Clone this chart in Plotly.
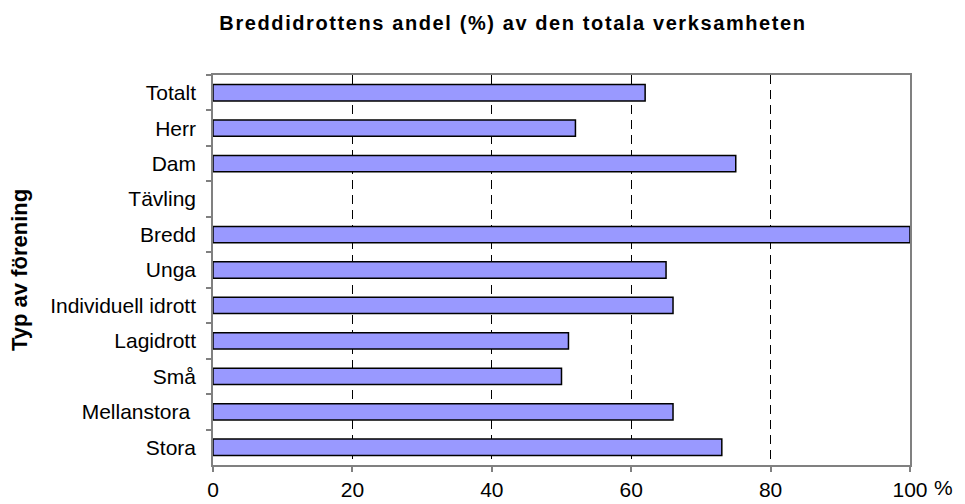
import plotly.graph_objects as go

categories = ["Totalt", "Herr", "Dam", "Tävling", "Bredd", "Unga",
              "Individuell idrott", "Lagidrott", "Små", "Mellanstora\u00a0", "Stora"]
values = [62, 52, 75, None, 100, 65, 66, 51, 50, 66, 73]
x_ticks = [0, 20, 40, 60, 80, 100]

title_text = "Breddidrottens andel (%) av den totala verksamheten"
y_title = "Typ av förening"

FONT = "Liberation Sans, Arial, sans-serif"

L, R, T, B = 213, 55, 75, 39
W, H = 965, 504
pw = W - L - R
ph = H - T - B


def px_x(x):
    return (x - L) / pw


def px_y(y):
    return (H - B - y) / ph


fig = go.Figure(go.Bar(
    x=values, y=categories, orientation="h",
    marker=dict(color="#9999FF", line=dict(color="black", width=1.5)),
    width=0.46,
))

fig.update_layout(
    width=W, height=H,
    margin=dict(l=L, r=R, t=T, b=B, pad=0, autoexpand=False),
    paper_bgcolor="white", plot_bgcolor="white",
    showlegend=False,
    font=dict(family=FONT, size=21, color="black"),
    title=dict(
        text='<span style="letter-spacing:1.6px"><b>' + title_text + '</b></span>',
        x=513 / W, xanchor="center", xref="container",
        y=1 - 23 / H, yanchor="middle", yref="container",
        font=dict(family=FONT, size=20, color="black"),
    ),
    xaxis=dict(
        range=[0, 100], tickvals=x_ticks, ticktext=[str(v) for v in x_ticks],
        showgrid=True, gridcolor="black", gridwidth=1, griddash="9px,6px",
        showline=True, linecolor="#808080", linewidth=1.5, mirror=True,
        ticks="outside", ticklen=5, tickcolor="#808080", tickwidth=1.5,
        ticklabelstandoff=0, automargin=False,
        zeroline=False,
        tickfont=dict(family=FONT, size=21, color="black"),
    ),
    yaxis=dict(
        autorange="reversed",
        showgrid=False,
        showline=True, linecolor="#808080", linewidth=1.5, mirror=True,
        ticks="outside", ticklen=5, tickcolor="#808080", tickwidth=1.5,
        tickson="boundaries", automargin=False,
        ticklabelstandoff=11,
        tickfont=dict(family=FONT, size=21, color="black"),
    ),
    annotations=[
        dict(text="%", x=px_x(943), y=px_y(487), xref="paper", yref="paper",
             showarrow=False, xanchor="center", yanchor="middle",
             font=dict(family=FONT, size=21, color="black")),
        dict(text="<b>" + y_title + "</b>", textangle=-90,
             x=px_x(19), y=px_y(270), xref="paper", yref="paper",
             showarrow=False, xanchor="center", yanchor="middle",
             font=dict(family=FONT, size=22, color="black")),
    ],
)

fig.write_html(
    "out.html",
    config={"displayModeBar": False},
    post_script="document.body.style.margin='0';document.body.style.overflow='hidden';",
)
